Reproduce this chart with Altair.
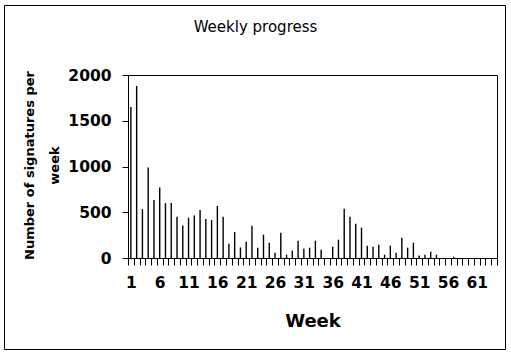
import altair as alt
import pandas as pd

weeks = list(range(1, 65))
signatures = [1650, 1880, 535, 990, 635, 770, 600, 600, 450, 355,
              440, 465, 525, 425, 415, 570, 450, 155, 285, 115,
              178, 353, 113, 255, 168, 58, 277, 36, 80, 189,
              102, 113, 189, 91, 0, 124, 200, 539, 452, 375,
              332, 135, 124, 146, 36, 135, 58, 222, 113, 168,
              26, 36, 69, 36, 0, 0, 15, 0, 0, 0,
              0, 0, 0, 0]
y_ticks = [0, 500, 1000, 1500, 2000]
x_boundaries = [w - 0.5 for w in weeks] + [64.5]
title_text = "Weekly progress"
y_title = ["Number of signatures per", "week"]
x_title = "Week"

W, H = 369, 183
PL, PT = 128, 75

df = pd.DataFrame({"week": weeks, "signatures": signatures})

x_scale = alt.Scale(domain=[0.5, 64.5], nice=False, zero=False)
y_scale = alt.Scale(domain=[0, 2000], nice=False)

bars = alt.Chart(df).mark_rule(color="black", strokeWidth=1.4).encode(
    x=alt.X("week:Q", scale=x_scale, title=x_title,
            axis=alt.Axis(values=x_boundaries, tickSize=7, labelPadding=22,
                          labelOffset=W / 64 / 2, labelBaseline="alphabetic",
                          labelExpr="(datum.value - 0.5) % 5 == 0 ? '' + (datum.value + 0.5) : ''",
                          labelOverlap=False, labelFlush=False, labelBound=False,
                          grid=False, titleBaseline="alphabetic", titleY=68)),
    y=alt.Y("signatures:Q", scale=y_scale, title=y_title,
            axis=alt.Axis(values=y_ticks, tickSize=6, labelPadding=11, grid=False,
                          format="d",
                          titleX=-99, titleY=90, titleBaseline="middle",
                          titleLineHeight=25, titleFontSize=13)),
    y2=alt.datum(0),
)

title = alt.Chart(pd.DataFrame({"t": [title_text]})).mark_text(
    font="DejaVu Sans", fontSize=15, color="black", align="center", baseline="alphabetic"
).encode(text="t:N", x=alt.value(255.5 - PL), y=alt.value(31.6 - PT))

frame = alt.Chart(pd.DataFrame({"a": [0]})).mark_rect(
    fillOpacity=0, stroke="black", strokeWidth=1
).encode(x=alt.value(4.5 - PL), x2=alt.value(505.5 - PL),
         y=alt.value(5.5 - PT), y2=alt.value(349.5 - PT))

chart = alt.layer(frame, bars, title).properties(
    width=W, height=H,
    autosize=alt.AutoSizeParams(type="none"),
    padding={"left": PL, "top": PT, "right": 511 - PL - W, "bottom": 355 - PT - H},
    background="white",
).configure_view(stroke="black", strokeWidth=1).configure_axis(
    domainColor="black", tickColor="black", labelColor="black", titleColor="black",
    labelFont="DejaVu Sans", labelFontWeight="bold", labelFontSize=15.5,
    titleFont="DejaVu Sans", titleFontWeight="bold", titleFontSize=18,
)

chart.save("out.html", embed_options={"renderer": "svg", "actions": False})
